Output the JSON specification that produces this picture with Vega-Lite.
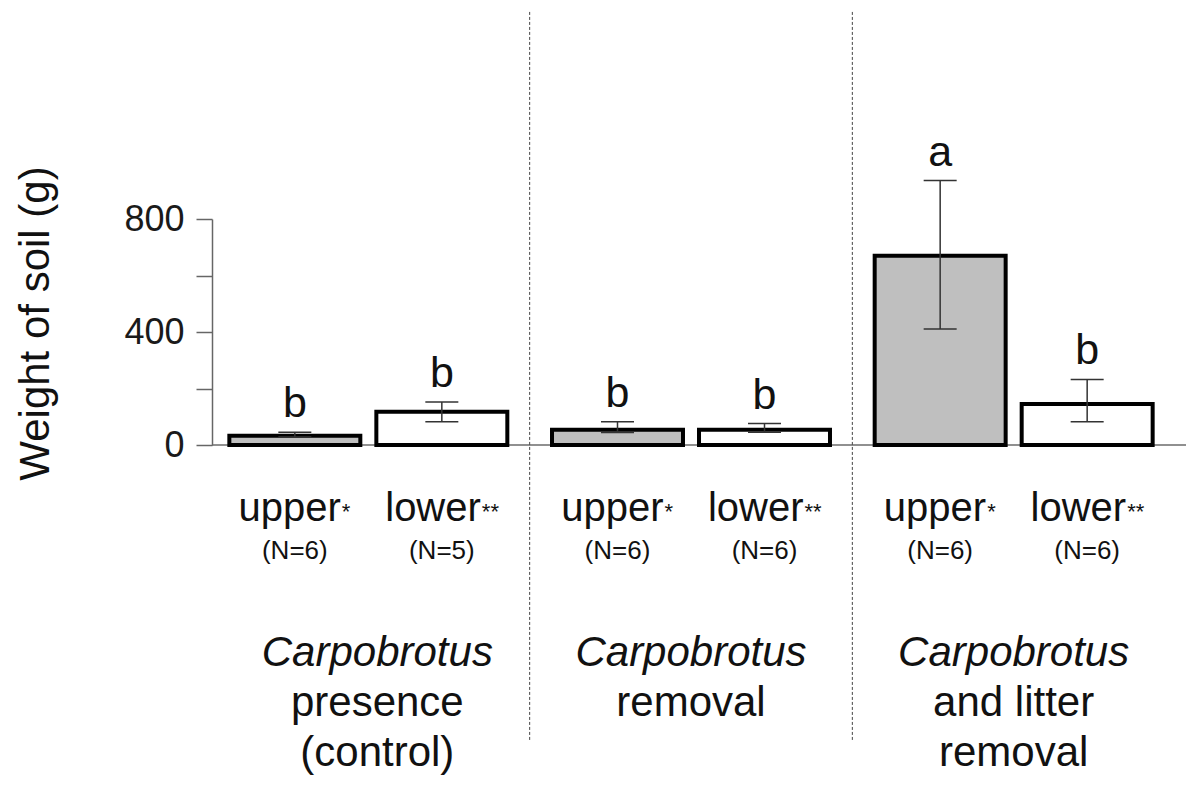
{
  "$schema": "https://vega.github.io/schema/vega-lite/v6.json",
  "autosize": {"type": "none"},
  "padding": {"left": 212, "top": 219, "right": 2, "bottom": 342},
  "width": 974,
  "height": 226,
  "config": {
    "view": {"stroke": null},
    "font": "Liberation Sans",
    "text": {"font": "Liberation Sans", "color": "#111"}
  },
  "datasets": {
    "bars": [
      {"treatment": "Carpobrotus presence (control)", "position": "upper", "mean": 33, "lo": 28, "hi": 45, "letter": "b", "n": "(N=6)"},
      {"treatment": "Carpobrotus presence (control)", "position": "lower", "mean": 118, "lo": 82, "hi": 152, "letter": "b", "n": "(N=5)"},
      {"treatment": "Carpobrotus removal", "position": "upper", "mean": 54, "lo": 44, "hi": 82, "letter": "b", "n": "(N=6)"},
      {"treatment": "Carpobrotus removal", "position": "lower", "mean": 54, "lo": 45, "hi": 76, "letter": "b", "n": "(N=6)"},
      {"treatment": "Carpobrotus and litter removal", "position": "upper", "mean": 670, "lo": 411, "hi": 936, "letter": "a", "n": "(N=6)"},
      {"treatment": "Carpobrotus and litter removal", "position": "lower", "mean": 145, "lo": 82, "hi": 232, "letter": "b", "n": "(N=6)"}
    ],
    "groups": [
      {"treatment": "Carpobrotus presence (control)", "genus": "Carpobrotus", "rest": ["presence", "(control)"], "divider": true, "first": true},
      {"treatment": "Carpobrotus removal", "genus": "Carpobrotus", "rest": ["removal"], "divider": true, "first": false},
      {"treatment": "Carpobrotus and litter removal", "genus": "Carpobrotus", "rest": ["and litter", "removal"], "divider": false, "first": false}
    ]
  },
  "data": {"name": "bars"},
  "layer": [
    {
      "data": {"values": [{}]},
      "mark": {"type": "rule", "color": "#6b6b6b", "strokeWidth": 1.5},
      "encoding": {"y": {"datum": 0, "type": "quantitative"}}
    },
    {
      "mark": {"type": "bar", "stroke": "#000000", "strokeWidth": 4},
      "encoding": {
        "x": {
          "field": "treatment", "type": "nominal",
          "scale": {"domain": ["Carpobrotus presence (control)", "Carpobrotus removal", "Carpobrotus and litter removal"], "range": [-5, 963], "paddingInner": 0, "paddingOuter": 0},
          "axis": null
        },
        "xOffset": {
          "field": "position", "type": "nominal",
          "scale": {"domain": ["upper", "lower"], "paddingInner": 0.109, "paddingOuter": 0.152}
        },
        "y": {
          "field": "mean", "type": "quantitative",
          "scale": {"domain": [0, 800], "nice": false, "zero": true},
          "axis": {
            "values": [0, 200, 400, 600, 800],
            "labelExpr": "datum.value % 400 === 0 ? datum.label : ''",
            "tickSize": 16,
            "labelPadding": 12,
            "labelFontSize": 36,
            "labelFont": "Liberation Sans",
            "labelColor": "#1a1a1a",
            "domainColor": "#666666",
            "domainWidth": 1.5,
            "tickColor": "#666666",
            "tickWidth": 1.5,
            "grid": false,
            "title": "Weight of soil (g)",
            "titleFont": "Liberation Sans",
            "titleFontSize": 42,
            "titleFontWeight": "normal",
            "titleColor": "#111111",
            "titlePadding": 66,
            "titleY": 104
          }
        },
        "fill": {
          "field": "position", "type": "nominal",
          "scale": {"domain": ["upper", "lower"], "range": ["#bfbfbf", "#ffffff"]},
          "legend": null
        }
      }
    },
    {
      "mark": {"type": "rule", "color": "#333333", "strokeWidth": 1.5},
      "encoding": {
        "x": {"field": "treatment", "type": "nominal"},
        "xOffset": {"field": "position", "type": "nominal"},
        "y": {"field": "lo", "type": "quantitative"},
        "y2": {"field": "hi"}
      }
    },
    {
      "mark": {"type": "tick", "size": 33, "thickness": 1.5, "color": "#333333", "opacity": 1},
      "encoding": {
        "x": {"field": "treatment", "type": "nominal"},
        "xOffset": {"field": "position", "type": "nominal"},
        "y": {"field": "lo", "type": "quantitative"}
      }
    },
    {
      "mark": {"type": "tick", "size": 33, "thickness": 1.5, "color": "#333333", "opacity": 1},
      "encoding": {
        "x": {"field": "treatment", "type": "nominal"},
        "xOffset": {"field": "position", "type": "nominal"},
        "y": {"field": "hi", "type": "quantitative"}
      }
    },
    {
      "mark": {"type": "text", "fontSize": 43, "baseline": "alphabetic", "dy": -15, "align": "center"},
      "encoding": {
        "x": {"field": "treatment", "type": "nominal"},
        "xOffset": {"field": "position", "type": "nominal"},
        "y": {"field": "hi", "type": "quantitative"},
        "text": {"field": "letter"}
      }
    },
    {
      "transform": [{"filter": "datum.position === 'upper'"}],
      "layer": [
        {
          "mark": {"type": "text", "fontSize": 40, "baseline": "alphabetic", "align": "right", "dx": 46, "dy": 76},
          "encoding": {
            "x": {"field": "treatment", "type": "nominal"},
            "xOffset": {"field": "position", "type": "nominal"},
            "y": {"datum": 0, "type": "quantitative"},
            "text": {"field": "position"}
          }
        },
        {
          "mark": {"type": "text", "fontSize": 22, "baseline": "alphabetic", "align": "left", "dx": 47, "dy": 74, "text": "*"},
          "encoding": {
            "x": {"field": "treatment", "type": "nominal"},
            "xOffset": {"field": "position", "type": "nominal"},
            "y": {"datum": 0, "type": "quantitative"}
          }
        }
      ]
    },
    {
      "transform": [{"filter": "datum.position === 'lower'"}],
      "layer": [
        {
          "mark": {"type": "text", "fontSize": 40, "baseline": "alphabetic", "align": "right", "dx": 39, "dy": 76},
          "encoding": {
            "x": {"field": "treatment", "type": "nominal"},
            "xOffset": {"field": "position", "type": "nominal"},
            "y": {"datum": 0, "type": "quantitative"},
            "text": {"field": "position"}
          }
        },
        {
          "mark": {"type": "text", "fontSize": 22, "baseline": "alphabetic", "align": "left", "dx": 40, "dy": 74, "text": "**"},
          "encoding": {
            "x": {"field": "treatment", "type": "nominal"},
            "xOffset": {"field": "position", "type": "nominal"},
            "y": {"datum": 0, "type": "quantitative"}
          }
        }
      ]
    },
    {
      "mark": {"type": "text", "fontSize": 26, "baseline": "alphabetic", "align": "center", "dy": 114},
      "encoding": {
        "x": {"field": "treatment", "type": "nominal"},
        "xOffset": {"field": "position", "type": "nominal"},
        "y": {"datum": 0, "type": "quantitative"},
        "text": {"field": "n"}
      }
    },
    {
      "data": {"name": "groups"},
      "layer": [
        {
          "transform": [{"filter": "datum.first"}],
          "layer": [
            {
              "mark": {"type": "text", "fontSize": 42, "fontStyle": "italic", "baseline": "alphabetic", "align": "center", "dy": 221, "dx": 9},
              "encoding": {
                "x": {"field": "treatment", "type": "nominal"},
                "y": {"datum": 0, "type": "quantitative"},
                "text": {"field": "genus"}
              }
            },
            {
              "mark": {"type": "text", "fontSize": 42, "baseline": "alphabetic", "align": "center", "dy": 271, "dx": 9, "lineHeight": 50},
              "encoding": {
                "x": {"field": "treatment", "type": "nominal"},
                "y": {"datum": 0, "type": "quantitative"},
                "text": {"field": "rest"}
              }
            }
          ]
        },
        {
          "transform": [{"filter": "!datum.first"}],
          "layer": [
            {
              "mark": {"type": "text", "fontSize": 42, "fontStyle": "italic", "baseline": "alphabetic", "align": "center", "dy": 221},
              "encoding": {
                "x": {"field": "treatment", "type": "nominal"},
                "y": {"datum": 0, "type": "quantitative"},
                "text": {"field": "genus"}
              }
            },
            {
              "mark": {"type": "text", "fontSize": 42, "baseline": "alphabetic", "align": "center", "dy": 271, "lineHeight": 50},
              "encoding": {
                "x": {"field": "treatment", "type": "nominal"},
                "y": {"datum": 0, "type": "quantitative"},
                "text": {"field": "rest"}
              }
            }
          ]
        },
        {
          "transform": [{"filter": "datum.divider"}],
          "mark": {"type": "rule", "color": "#444444", "strokeWidth": 1, "strokeDash": [3, 2]},
          "encoding": {
            "x": {"field": "treatment", "type": "nominal", "bandPosition": 1},
            "y": {"datum": 1533, "type": "quantitative"},
            "y2": {"datum": -1044}
          }
        }
      ]
    }
  ]
}
